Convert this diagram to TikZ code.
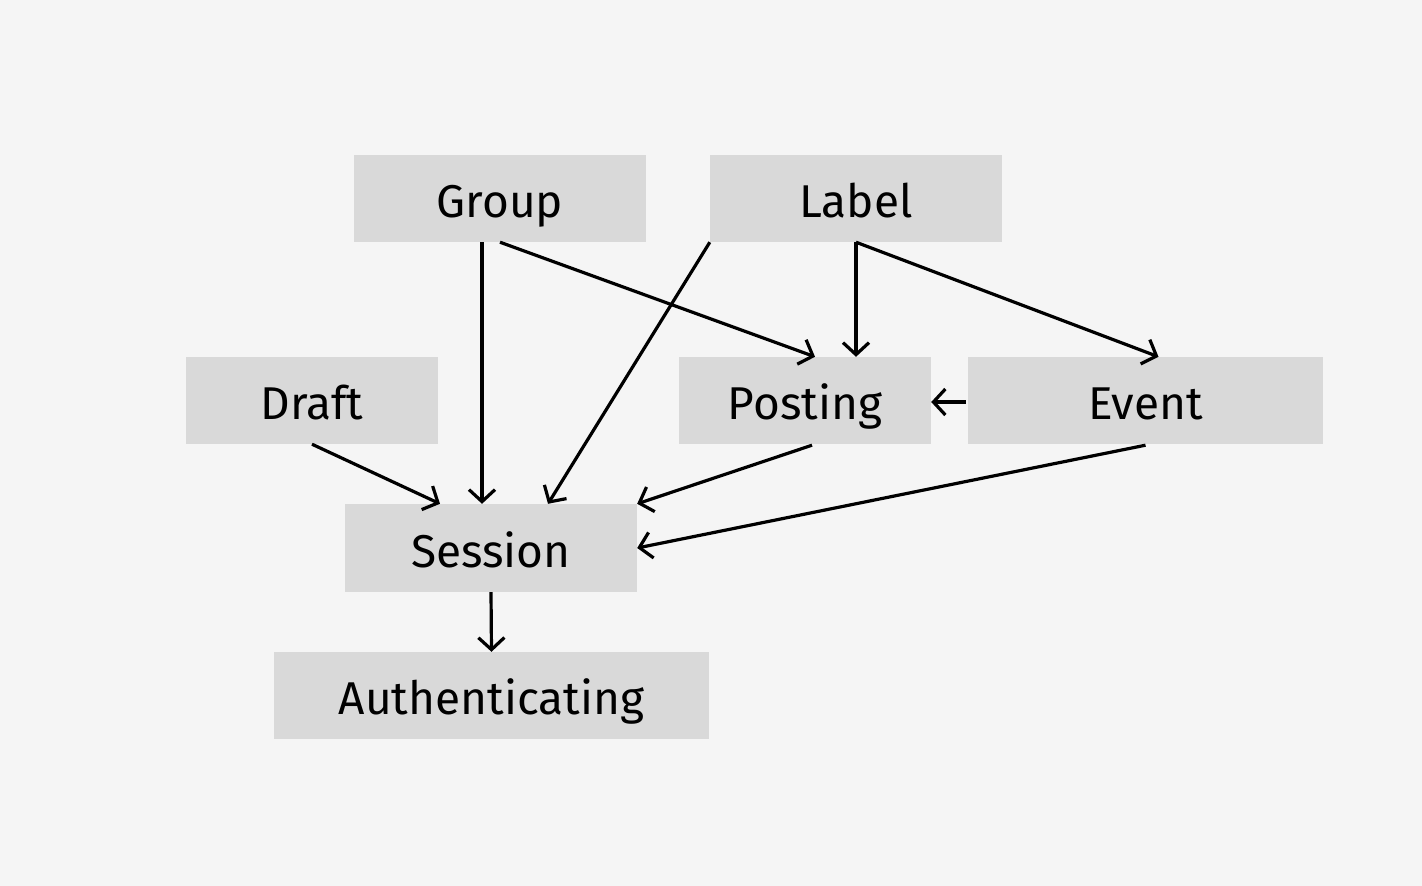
\documentclass[tikz,border=0pt]{standalone}
\usepackage{fontspec}
\setmainfont{Fira Sans}
\usetikzlibrary{arrows.meta}
\definecolor{bg}{HTML}{F5F5F5}
\definecolor{boxfill}{HTML}{D9D9D9}
\begin{document}
\begin{tikzpicture}[x=1pt,y=-1pt,
  box/.style={fill=boxfill,draw=none,inner sep=0pt,anchor=center,text height=38pt,text depth=0pt,font=\fontsize{46}{54}\selectfont},
  conn/.style={line width=3.2pt,-{Straight Barb[length=12pt,width=26pt,line width=3.2pt]}}]
\fill[bg] (0,0) rectangle (1422,886);
\useasboundingbox (0,0) rectangle (1422,886);
\node[box,minimum width=292pt,minimum height=87pt] (group) at (500,198.5) {Group};
\node[box,minimum width=292pt,minimum height=87pt] (label) at (856,198.5) {Label};
\node[box,minimum width=252pt,minimum height=87pt] (draft) at (312,400.5) {Draft};
\node[box,minimum width=252pt,minimum height=87pt] (posting) at (805,400.5) {Posting};
\node[box,minimum width=355pt,minimum height=87pt] (event) at (1145.5,400.5) {Event};
\node[box,minimum width=292pt,minimum height=88pt] (session) at (491,548) {Session};
\node[box,minimum width=435pt,minimum height=87pt] (auth) at (491.5,695.5) {Authenticating};
\draw[conn] ([xshift=-18pt]group.south) -- ([xshift=-9pt]session.north);
\draw[conn] (group.south) -- ([xshift=10pt]posting.north);
\draw[conn] (label.south west) -- ([xshift=57pt]session.north);
\draw[conn] (label.south) -- ([xshift=51pt]posting.north);
\draw[conn] (label.south) -- ([xshift=13pt]event.north);
\draw[conn] ([xshift=-2pt,yshift=-1.5pt]event.west) -- ([yshift=-1.5pt]posting.east);
\draw[conn] (draft.south) -- ([xshift=-51pt]session.north);
\draw[conn] ([xshift=7pt,yshift=-1pt]posting.south) -- (session.north east);
\draw[conn] ([yshift=-1pt]event.south) -- (session.east);
\draw[conn] (session.south) -- (auth.north);
\end{tikzpicture}
\end{document}
